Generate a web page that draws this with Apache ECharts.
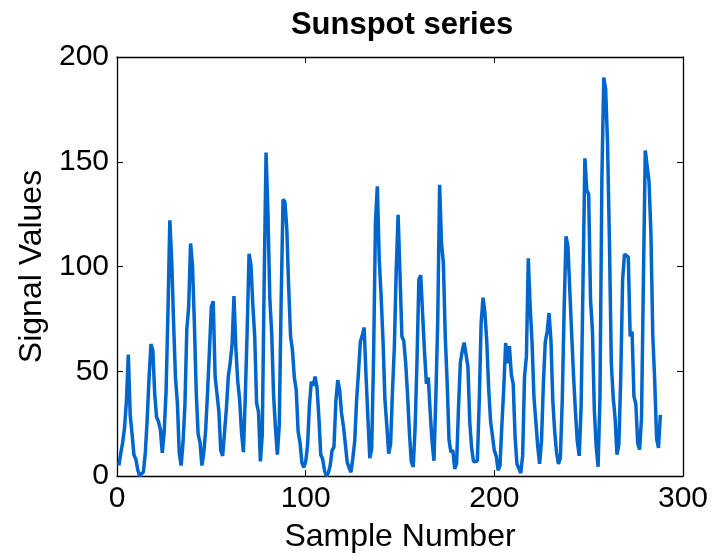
<!DOCTYPE html>
<html><head><meta charset="utf-8">
<script src="https://cdn.jsdelivr.net/npm/echarts@6/dist/echarts.min.js"></script>
<style>html,body{margin:0;padding:0;background:#fff}#c{width:714px;height:558px}</style>
</head><body><div id="c"></div>
<script>
const titleText = "Sunspot series";
const xName = "Sample Number";
const yName = "Signal Values";
const xTicks = [0, 100, 200, 300];
const yTicks = [0, 50, 100, 150, 200];
const sunspots = [
5,11,16,23,36,58,29,20,10,8,
3,0,0,2,11,27,47,63,60,39,
28,26,22,11,21,40,78,122,103,73,
47,35,11,5,16,34,70,81,111,101,
73,40,20,16,5,11,22,40,60,80.9,
83.4,47.7,47.8,30.7,12.2,9.6,10.2,32.4,47.6,54,
62.9,85.9,61.2,45.1,36.4,20.9,11.4,37.8,69.8,106.1,
100.8,81.6,66.5,34.8,30.6,7,19.8,92.5,154.4,125.9,
84.8,68.1,38.5,22.8,10.2,24.1,82.9,132,130.9,118.1,
89.9,66.6,60,46.9,41,21.3,16,6.4,4.1,6.8,
14.5,34,45,43.1,47.5,42.2,28.1,10.1,8.1,2.5,
0,1.4,5,12.2,13.9,35.4,45.8,41.1,30.1,23.9,
15.6,6.6,4,1.8,8.5,16.6,36.3,49.6,64.2,67,
70.9,47.8,27.5,8.5,13.2,56.9,121.5,138.3,103.2,85.7,
64.6,36.7,24.2,10.7,15,40.1,61.5,98.5,124.7,96.3,
66.6,64.5,54.1,39,20.6,6.7,4.3,22.7,54.8,93.8,
95.8,77.2,59.1,44,47,30.5,16.3,7.3,37.6,74,
139,111.2,101.6,66.2,44.7,17,11.3,12.4,3.4,6,
32.3,54.3,59.7,63.7,63.5,52.2,25.4,13.1,6.8,6.3,
7.1,35.6,73,85.1,78,64,41.8,26.2,26.7,12.1,
9.5,2.7,5,24.4,42,63.5,53.8,62,48.5,43.9,
18.6,5.7,3.6,1.4,9.6,47.4,57.1,103.9,80.6,63.6,
37.6,26.1,14.2,5.8,16.7,44.3,63.9,69,77.8,64.9,
35.7,21.2,11.1,5.7,8.7,36.1,79.7,114.4,109.6,88.8,
67.8,47.5,30.6,16.3,9.6,33.2,92.6,151.6,136.3,134.7,
83.9,69.4,31.5,13.9,4.4,38,141.7,190.2,184.8,159,
112.3,53.9,37.5,27.9,10.2,15.1,47,93.8,105.9,105.5,
104.5,66.6,68.9,38,34.5,15.5,12.6,27.5,92.5,155.4,
154.6,140.5,115.9,66.6,45.9,17.9,13.4,29.2
];
const seriesData = sunspots.map((v, i) => [i + 1, v]);
const font = "'Liberation Sans', Arial, Helvetica, sans-serif";
const axLine = {show: true, onZero: false, lineStyle: {color: '#000', width: 1.3}};
const tick = {show: true, inside: true, length: 6, lineStyle: {color: '#000', width: 1}};
const xStep = xTicks[1] - xTicks[0], yStep = yTicks[1] - yTicks[0];
const chart = echarts.init(document.getElementById('c'), null, {renderer: 'canvas'});
chart.setOption({
  animation: false,
  backgroundColor: '#fff',
  title: {text: titleText, left: 397, top: 5, textAlign: 'center',
    textStyle: {fontFamily: font, fontWeight: 'bold', fontSize: 31, color: '#000'}},
  grid: {left: 117, top: 57, width: 566, height: 426, containLabel: false},
  xAxis: [
    {type: 'value', min: xTicks[0], max: xTicks[xTicks.length - 1], interval: xStep,
     position: 'bottom', axisLine: axLine, axisTick: tick, splitLine: {show: false},
     axisLabel: {fontFamily: font, fontSize: 30, color: '#000', margin: 8},
     name: xName, nameLocation: 'middle', nameGap: 45,
     nameTextStyle: {fontFamily: font, fontSize: 32, color: '#000'}},
    {type: 'value', min: xTicks[0], max: xTicks[xTicks.length - 1], interval: xStep,
     position: 'top', axisLine: axLine, axisTick: tick, axisLabel: {show: false}, splitLine: {show: false}}
  ],
  yAxis: [
    {type: 'value', min: yTicks[0], max: yTicks[yTicks.length - 1], interval: yStep,
     position: 'left', axisLine: axLine, axisTick: tick, splitLine: {show: false},
     axisLabel: {fontFamily: font, fontSize: 30, color: '#000', margin: 8},
     name: yName, nameLocation: 'middle', nameGap: 57,
     nameTextStyle: {fontFamily: font, fontSize: 32, color: '#000'}},
    {type: 'value', min: yTicks[0], max: yTicks[yTicks.length - 1], interval: yStep,
     position: 'right', axisLine: axLine, axisTick: tick, axisLabel: {show: false}, splitLine: {show: false}}
  ],
  series: [{type: 'line', data: seriesData, showSymbol: false, symbol: 'none',
    lineStyle: {color: '#0066cc', width: 3.5}, xAxisIndex: 0, yAxisIndex: 0}]
});
</script></body></html>
